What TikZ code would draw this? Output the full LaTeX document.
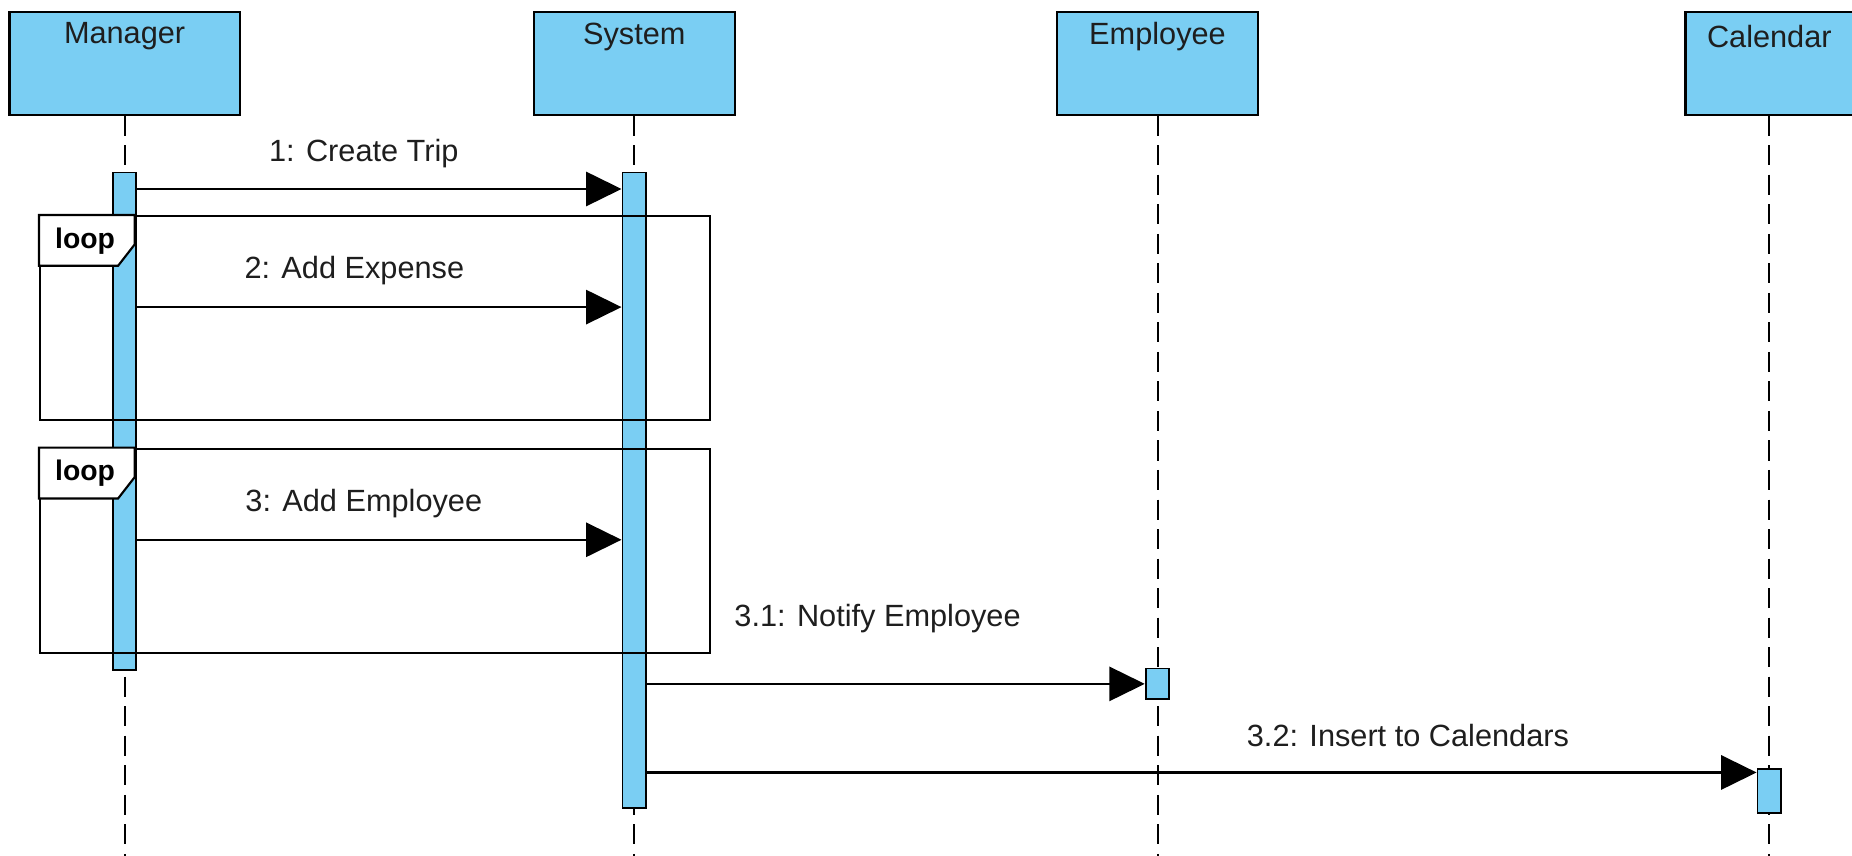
\documentclass[tikz,border=0pt]{standalone}
\usepackage{fontspec}
\setmainfont{Liberation Sans}
\usetikzlibrary{arrows.meta}
\definecolor{lifeblue}{RGB}{122,206,243}
\definecolor{txt}{RGB}{30,30,30}
\begin{document}
\begin{tikzpicture}[x=1pt,y=-1pt,
  objbox/.style={draw=black, fill=lifeblue, line width=1.8pt, rectangle, inner sep=0pt, minimum height=87pt},
  actbar/.style={draw=black, fill=lifeblue, line width=1.6pt, rectangle, inner sep=0pt, minimum width=20pt},
  life/.style={draw=black, line width=1.7pt, dash pattern=on 17pt off 8pt},
  msg/.style={draw=black, line width=1.8pt, -{Triangle[length=30pt,width=29pt]}},
  lbl/.style={font=\fontsize{26}{30}\selectfont, text=txt, inner sep=0pt},
  looplbl/.style={font=\fontsize{24}{28}\selectfont\bfseries, text=black, inner sep=0pt},
  fragment/.style={draw=black, line width=1.8pt, rectangle, inner sep=0pt, anchor=north west, minimum width=567pt, minimum height=173pt},
]
\useasboundingbox (0,0) rectangle (1568,724);
\fill[white] (0,0) rectangle (1568,724);

% object boxes
\node[objbox, minimum width=195pt] (mgr) at (105.5,53.5) {};
\node[objbox, minimum width=170pt] (sys) at (537,53.5) {};
\node[objbox, minimum width=170pt] (emp) at (980,53.5) {};
\node[objbox, minimum width=142pt] (cal) at (1498,53.5) {};
\node[lbl] (mgrt) at (105.5,31) {Manager};
\node[lbl] (syst) at (537,31) {System};
\node[lbl] (empt) at (980,31) {Employee};
\node[lbl] (calt) at (1498,31) {Calendar};

% lifelines
\coordinate (bottom) at (0,726);
\draw[life] (mgr.south) -- (mgr.south |- bottom);
\draw[life] (sys.south) -- (sys.south |- bottom);
\draw[life] (emp.south) -- (emp.south |- bottom);
\draw[life] (cal.south) -- (cal.south |- bottom);

% activation bars
\coordinate (ymb) at (0,356.5);
\coordinate (ysb) at (0,415);
\coordinate (yeb) at (0,579);
\coordinate (ycb) at (0,669.5);
\node[actbar, minimum height=421pt] (mbar) at (mgr.south |- ymb) {};
\node[actbar, minimum height=538pt] (sbar) at (sys.south |- ysb) {};
\node[actbar, minimum height=26pt] (ebar) at (emp.south |- yeb) {};
\node[actbar, minimum height=37pt] (cbar) at (cal.south |- ycb) {};

% loop fragments
\node[fragment] (loopa) at (33,182) {};
\draw[line width=1.8pt, fill=white] (loopa.north west) -- ++(81,0) -- ++(0,25) -- ++(-14,18) -- (loopa.north west |- 0,225) -- cycle;
\node[looplbl] (loopat) at (72,204) {loop};
\node[fragment] (loopb) at (33,379) {};
\draw[line width=1.8pt, fill=white] (loopb.north west) -- ++(81,0) -- ++(0,25) -- ++(-14,18) -- (loopb.north west |- 0,422) -- cycle;
\node[looplbl] (loopbt) at (72,401) {loop};

% messages
\coordinate (y1) at (0,160);
\coordinate (y2) at (0,260);
\coordinate (y3) at (0,457);
\coordinate (y31) at (0,579);
\coordinate (y32) at (0,654);
\draw[msg] (mbar.east |- y1) -- (sbar.west |- y1);
\draw[msg] (mbar.east |- y2) -- (sbar.west |- y2);
\draw[msg] (mbar.east |- y3) -- (sbar.west |- y3);
\draw[msg] (sbar.east |- y31) -- (ebar.west |- y31);
\draw[msg] (sbar.east |- y32) -- (cbar.west |- y32);

\node[lbl] (m1) at (308,130) {1: Create Trip};
\node[lbl] (m2) at (300,229) {2: Add Expense};
\node[lbl] (m3) at (308,426) {3: Add Employee};
\node[lbl] (m31) at (743,524) {3.1: Notify Employee};
\node[lbl] (m32) at (1192,623) {3.2: Insert to Calendars};
\end{tikzpicture}
\end{document}
